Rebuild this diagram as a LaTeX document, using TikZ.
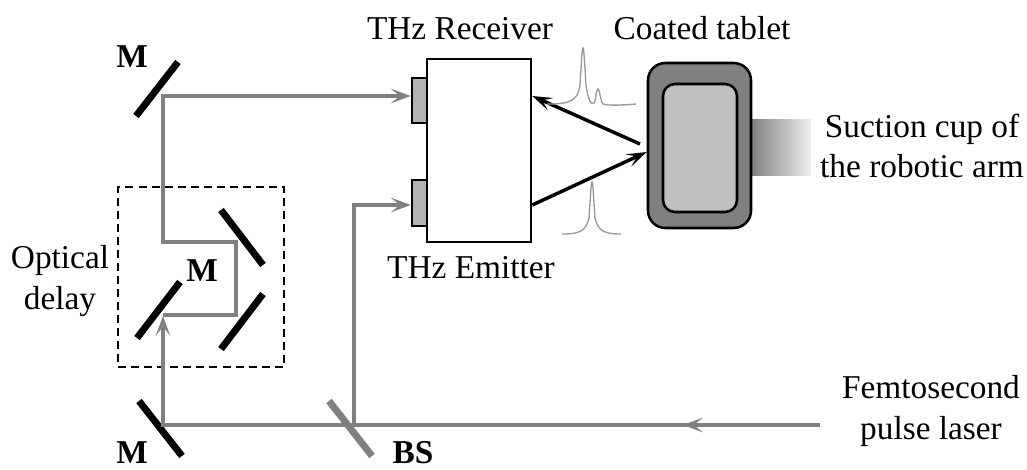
\documentclass[tikz,border=0pt]{standalone}
\usepackage{fontspec}
\setmainfont{Liberation Serif}
\usetikzlibrary{arrows.meta}
\definecolor{gray50}{gray}{0.5}
\definecolor{gray60}{gray}{0.6}
\tikzset{
 mirror/.style={line width=5.2pt,black},
 bsmirror/.style={line width=5.2pt,gray50},
 beam/.style={line width=2.5pt,gray50,line join=miter},
 beamtip/.style={-{Stealth[length=15pt,width=11pt,inset=7pt]},line width=2.5pt,gray50},
 probe/.style={-{Stealth[length=15pt,width=10pt,inset=7pt]},line width=2.6pt,black},
 spectrum/.style={line width=1pt,gray60},
 lbl/.style={font=\fontsize{25}{30.5}\selectfont,inner sep=0pt,align=center},
 mlbl/.style={font=\fontsize{25}{30}\selectfont\bfseries,inner sep=0pt,anchor=base},
 part/.style={draw=black,line width=1.9pt}
}
\begin{document}
\begin{tikzpicture}[x=0.75pt,y=-0.75pt]
\useasboundingbox (0,0) rectangle (1027,470);
% tablet and suction cup
\shade[left color=black!50,right color=black!6] (751,120) rectangle (811,176);
\node[part,fill=black!50,rounded corners=13pt,minimum width=103*0.75pt,minimum height=165*0.75pt,inner sep=0pt] (tablet) at (699.5,145.5) {};
\node[part,fill=black!25,rounded corners=9pt,minimum width=74*0.75pt,minimum height=128*0.75pt,inner sep=0pt] (core) at (700,148) {};
% receiver box
\node[part,fill=white,minimum width=104*0.75pt,minimum height=183*0.75pt,inner sep=0pt] (box) at (479,150.5) {};
\node[part,fill=black!30,minimum width=15*0.75pt,minimum height=45*0.75pt,inner sep=0pt] (rx) at (419.5,100.5) {};
\node[part,fill=black!30,minimum width=15*0.75pt,minimum height=46*0.75pt,inner sep=0pt] (tx) at (419.5,203) {};
% mirrors
\draw[mirror] (178,62) -- (136,116);
\draw[mirror] (221,210) -- (263,265);
\draw[mirror] (263,294) -- (221,349);
\draw[mirror] (180,282) -- (137,338);
\draw[mirror] (139,401) -- (182,456);
\draw[bsmirror] (329,401) -- (372,456);
% dashed delay box
\node[draw=black,dash pattern=on 6pt off 3.8pt,line width=1.3pt,minimum width=166*0.75pt,minimum height=180*0.75pt,inner sep=0pt] (delay) at (201,277) {};
% beams
\coordinate (laser) at (820,425);
\coordinate (fold) at (163,425);
\coordinate (split) at (354,425);
\coordinate (top) at (163,96);
\draw[beam] (laser) -- (fold) -- (163,325);
\draw[beamtip] (fold) -- (163,316);
\draw[beamtip] (laser) -- (683,425);
\draw[beam] (163,315) -- (236,315) -- (236,242) -- (163,242) -- (top) -- (400,96);
\draw[beamtip] (top) -- (rx.west |- top);
\draw[beam] (split) -- (354,205) -- (400,205);
\draw[beamtip] (354,205) -- (tx.west |- 0,205);
% probe rays
\coordinate (rr) at (640,144);
\draw[probe] (rr) -- (box.east |- 0,96);
\draw[probe] (box.east |- 0,205) -- (tablet.west |- 0,152);
% spectra
\draw[spectrum] (547,104) .. controls (568,104) and (578,102) .. (580,85) .. controls (581,70) and (582,48) .. (583,48) .. controls (584,48) and (585,70) .. (586,85) .. controls (588,100) and (591,105) .. (594,103) .. controls (596,101) and (596,89) .. (598,89) .. controls (600,89) and (600,101) .. (603,104) .. controls (608,106) and (625,105) .. (636,104);
\draw[spectrum] (562,234) .. controls (578,234) and (586,232) .. (589,218) .. controls (590,205) and (591,182) .. (592,182) .. controls (593,182) and (594,205) .. (595,218) .. controls (598,232) and (606,234) .. (621,234);
% labels
\node[lbl,anchor=base] (lrx) at (460,40) {THz Receiver};
\node[lbl,anchor=base] (lct) at (702,40) {Coated tablet};
\node[lbl,anchor=base] (ltx) at (471,278) {THz Emitter};
\node[lbl] (lsc) at (922,146) {Suction cup of\\the robotic arm};
\node[lbl] (lod) at (60,281) {Optical\\delay};
\node[lbl] (lfs) at (931,411) {Femtosecond\\pulse laser};
\node[mlbl] (m1) at (132,68) {M};
\node[mlbl] (m2) at (202,281) {M};
\node[mlbl] (m3) at (132,463) {M};
\node[mlbl] (bs) at (413,463) {BS};
\end{tikzpicture}
\end{document}
